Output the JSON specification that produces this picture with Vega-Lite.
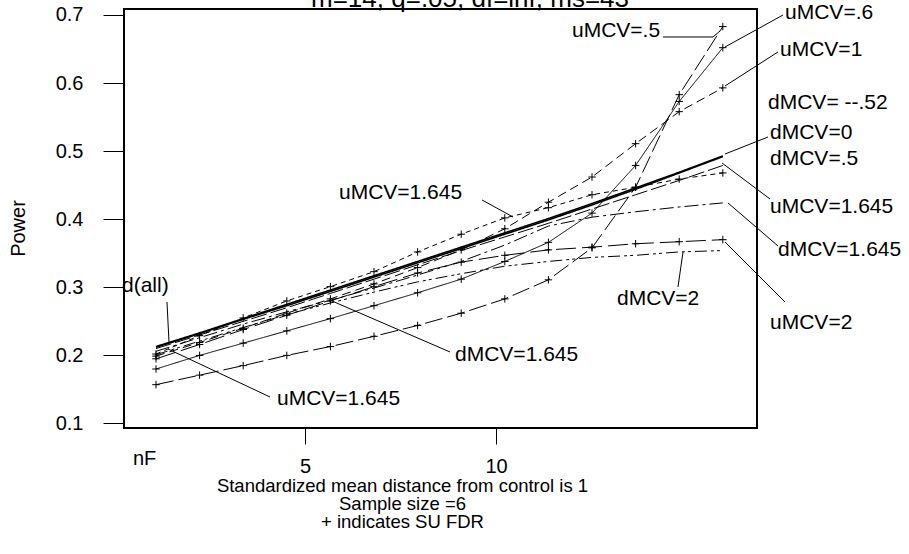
{
  "$schema": "https://vega.github.io/schema/vega-lite/v6.json",
  "width": 633,
  "height": 419,
  "autosize": {"type": "none"},
  "padding": {"left": 124, "top": 9, "right": 152, "bottom": 126},
  "background": "white",
  "datasets": {
    "curves": [
      {"s":"dMCV=-.52","nF":1,"power":0.213},{"s":"dMCV=-.52","nF":2,"power":0.233},{"s":"dMCV=-.52","nF":3,"power":0.254},{"s":"dMCV=-.52","nF":4,"power":0.275},{"s":"dMCV=-.52","nF":5,"power":0.296},{"s":"dMCV=-.52","nF":6,"power":0.317},{"s":"dMCV=-.52","nF":7,"power":0.338},{"s":"dMCV=-.52","nF":8,"power":0.359},{"s":"dMCV=-.52","nF":9,"power":0.380},{"s":"dMCV=-.52","nF":10,"power":0.401},{"s":"dMCV=-.52","nF":11,"power":0.423},{"s":"dMCV=-.52","nF":12,"power":0.446},{"s":"dMCV=-.52","nF":13,"power":0.469},{"s":"dMCV=-.52","nF":14,"power":0.493},
      {"s":"dMCV=0","nF":1,"power":0.212},{"s":"dMCV=0","nF":2,"power":0.232},{"s":"dMCV=0","nF":3,"power":0.253},{"s":"dMCV=0","nF":4,"power":0.273},{"s":"dMCV=0","nF":5,"power":0.294},{"s":"dMCV=0","nF":6,"power":0.315},{"s":"dMCV=0","nF":7,"power":0.336},{"s":"dMCV=0","nF":8,"power":0.357},{"s":"dMCV=0","nF":9,"power":0.378},{"s":"dMCV=0","nF":10,"power":0.399},{"s":"dMCV=0","nF":11,"power":0.421},{"s":"dMCV=0","nF":12,"power":0.444},{"s":"dMCV=0","nF":13,"power":0.468},{"s":"dMCV=0","nF":14,"power":0.492},
      {"s":"dMCV=.5","nF":1,"power":0.210},{"s":"dMCV=.5","nF":2,"power":0.230},{"s":"dMCV=.5","nF":3,"power":0.250},{"s":"dMCV=.5","nF":4,"power":0.270},{"s":"dMCV=.5","nF":5,"power":0.291},{"s":"dMCV=.5","nF":6,"power":0.312},{"s":"dMCV=.5","nF":7,"power":0.333},{"s":"dMCV=.5","nF":8,"power":0.354},{"s":"dMCV=.5","nF":9,"power":0.374},{"s":"dMCV=.5","nF":10,"power":0.394},{"s":"dMCV=.5","nF":11,"power":0.415},{"s":"dMCV=.5","nF":12,"power":0.436},{"s":"dMCV=.5","nF":13,"power":0.457},{"s":"dMCV=.5","nF":14,"power":0.479},
      {"s":"uMCV=.5","nF":1,"power":0.157},{"s":"uMCV=.5","nF":2,"power":0.171},{"s":"uMCV=.5","nF":3,"power":0.185},{"s":"uMCV=.5","nF":4,"power":0.200},{"s":"uMCV=.5","nF":5,"power":0.213},{"s":"uMCV=.5","nF":6,"power":0.228},{"s":"uMCV=.5","nF":7,"power":0.244},{"s":"uMCV=.5","nF":8,"power":0.262},{"s":"uMCV=.5","nF":9,"power":0.283},{"s":"uMCV=.5","nF":10,"power":0.311},{"s":"uMCV=.5","nF":11,"power":0.358},{"s":"uMCV=.5","nF":12,"power":0.447},{"s":"uMCV=.5","nF":13,"power":0.583},{"s":"uMCV=.5","nF":14,"power":0.683},
      {"s":"uMCV=.6","nF":1,"power":0.180},{"s":"uMCV=.6","nF":2,"power":0.200},{"s":"uMCV=.6","nF":3,"power":0.218},{"s":"uMCV=.6","nF":4,"power":0.236},{"s":"uMCV=.6","nF":5,"power":0.254},{"s":"uMCV=.6","nF":6,"power":0.273},{"s":"uMCV=.6","nF":7,"power":0.292},{"s":"uMCV=.6","nF":8,"power":0.312},{"s":"uMCV=.6","nF":9,"power":0.338},{"s":"uMCV=.6","nF":10,"power":0.366},{"s":"uMCV=.6","nF":11,"power":0.409},{"s":"uMCV=.6","nF":12,"power":0.479},{"s":"uMCV=.6","nF":13,"power":0.573},{"s":"uMCV=.6","nF":14,"power":0.652},
      {"s":"uMCV=1","nF":1,"power":0.199},{"s":"uMCV=1","nF":2,"power":0.219},{"s":"uMCV=1","nF":3,"power":0.240},{"s":"uMCV=1","nF":4,"power":0.262},{"s":"uMCV=1","nF":5,"power":0.283},{"s":"uMCV=1","nF":6,"power":0.305},{"s":"uMCV=1","nF":7,"power":0.329},{"s":"uMCV=1","nF":8,"power":0.355},{"s":"uMCV=1","nF":9,"power":0.386},{"s":"uMCV=1","nF":10,"power":0.425},{"s":"uMCV=1","nF":11,"power":0.462},{"s":"uMCV=1","nF":12,"power":0.511},{"s":"uMCV=1","nF":13,"power":0.558},{"s":"uMCV=1","nF":14,"power":0.593},
      {"s":"uMCV=1.645","nF":1,"power":0.202},{"s":"uMCV=1.645","nF":2,"power":0.229},{"s":"uMCV=1.645","nF":3,"power":0.255},{"s":"uMCV=1.645","nF":4,"power":0.280},{"s":"uMCV=1.645","nF":5,"power":0.301},{"s":"uMCV=1.645","nF":6,"power":0.323},{"s":"uMCV=1.645","nF":7,"power":0.352},{"s":"uMCV=1.645","nF":8,"power":0.378},{"s":"uMCV=1.645","nF":9,"power":0.402},{"s":"uMCV=1.645","nF":10,"power":0.417},{"s":"uMCV=1.645","nF":11,"power":0.436},{"s":"uMCV=1.645","nF":12,"power":0.447},{"s":"uMCV=1.645","nF":13,"power":0.459},{"s":"uMCV=1.645","nF":14,"power":0.468},
      {"s":"uMCV=2","nF":1,"power":0.195},{"s":"uMCV=2","nF":2,"power":0.216},{"s":"uMCV=2","nF":3,"power":0.238},{"s":"uMCV=2","nF":4,"power":0.259},{"s":"uMCV=2","nF":5,"power":0.280},{"s":"uMCV=2","nF":6,"power":0.301},{"s":"uMCV=2","nF":7,"power":0.321},{"s":"uMCV=2","nF":8,"power":0.337},{"s":"uMCV=2","nF":9,"power":0.347},{"s":"uMCV=2","nF":10,"power":0.355},{"s":"uMCV=2","nF":11,"power":0.359},{"s":"uMCV=2","nF":12,"power":0.364},{"s":"uMCV=2","nF":13,"power":0.367},{"s":"uMCV=2","nF":14,"power":0.370},
      {"s":"dMCV=1.645","nF":1,"power":0.206},{"s":"dMCV=1.645","nF":2,"power":0.226},{"s":"dMCV=1.645","nF":3,"power":0.246},{"s":"dMCV=1.645","nF":4,"power":0.264},{"s":"dMCV=1.645","nF":5,"power":0.281},{"s":"dMCV=1.645","nF":6,"power":0.299},{"s":"dMCV=1.645","nF":7,"power":0.318},{"s":"dMCV=1.645","nF":8,"power":0.338},{"s":"dMCV=1.645","nF":9,"power":0.362},{"s":"dMCV=1.645","nF":10,"power":0.390},{"s":"dMCV=1.645","nF":11,"power":0.403},{"s":"dMCV=1.645","nF":12,"power":0.411},{"s":"dMCV=1.645","nF":13,"power":0.418},{"s":"dMCV=1.645","nF":14,"power":0.424},
      {"s":"dMCV=2","nF":1,"power":0.201},{"s":"dMCV=2","nF":2,"power":0.221},{"s":"dMCV=2","nF":3,"power":0.241},{"s":"dMCV=2","nF":4,"power":0.260},{"s":"dMCV=2","nF":5,"power":0.277},{"s":"dMCV=2","nF":6,"power":0.293},{"s":"dMCV=2","nF":7,"power":0.308},{"s":"dMCV=2","nF":8,"power":0.320},{"s":"dMCV=2","nF":9,"power":0.331},{"s":"dMCV=2","nF":10,"power":0.338},{"s":"dMCV=2","nF":11,"power":0.344},{"s":"dMCV=2","nF":12,"power":0.347},{"s":"dMCV=2","nF":13,"power":0.352},{"s":"dMCV=2","nF":14,"power":0.354}
    ],
    "labels": [
      {"t":"uMCV=.5","nF":10.541,"power":0.6765},
      {"t":"uMCV=.6","nF":15.427,"power":0.7029},
      {"t":"uMCV=1","nF":15.312,"power":0.6486},
      {"t":"dMCV= --.52","nF":15.037,"power":0.5707},
      {"t":"dMCV=0","nF":15.083,"power":0.5267},
      {"t":"dMCV=.5","nF":15.083,"power":0.4885},
      {"t":"uMCV=1.645","nF":15.083,"power":0.4180},
      {"t":"dMCV=1.645","nF":15.266,"power":0.3548},
      {"t":"uMCV=2","nF":15.083,"power":0.2476},
      {"t":"dMCV=2","nF":11.573,"power":0.2828},
      {"t":"uMCV=1.645","nF":5.197,"power":0.4385},
      {"t":"dMCV=1.645","nF":7.858,"power":0.2006},
      {"t":"uMCV=1.645","nF":3.775,"power":0.1360},
      {"t":"d(all)","nF":0.220,"power":0.3019}
    ],
    "leaders": [
      {"nF":12.628,"power":0.6677,"nF2":13.775,"power2":0.6677},
      {"nF":13.775,"power":0.6677,"nF2":13.936,"power2":0.6765},
      {"nF":15.381,"power":0.7000,"nF2":14.050,"power2":0.6530},
      {"nF":15.266,"power":0.6457,"nF2":14.050,"power2":0.5957},
      {"nF":15.037,"power":0.5208,"nF2":14.050,"power2":0.4958},
      {"nF":15.083,"power":0.4297,"nF2":13.982,"power2":0.4826},
      {"nF":15.266,"power":0.3607,"nF2":14.119,"power2":0.4239},
      {"nF":15.427,"power":0.2784,"nF2":14.050,"power2":0.3666},
      {"nF":12.972,"power":0.3005,"nF2":13.087,"power2":0.3519},
      {"nF":8.477,"power":0.4283,"nF2":9.188,"power2":0.4033},
      {"nF":7.743,"power":0.2050,"nF2":5.037,"power2":0.2799},
      {"nF":3.615,"power":0.1389,"nF2":1.275,"power2":0.2094},
      {"nF":1.252,"power":0.2784,"nF2":1.298,"power2":0.2197}
    ],
    "extra": [
      {"t":"nF","nF":0.4725,"power":0.0390}
    ],
    "top": [
      {"t":"m=14, q=.05, df=inf, ms=43","nF":8.202,"power":0.7118}
    ]
  },
  "layer": [
    {
      "data": {"name": "curves"},
      "mark": {"type": "line", "color": "black"},
      "encoding": {
        "x": {"field": "nF", "type": "quantitative",
          "scale": {"domain": [0.2661, 14.784], "nice": false, "zero": false},
          "axis": {"values": [4.4174, 8.7982], "labelExpr": "datum.value < 6 ? '5' : '10'",
            "tickSize": 16, "labelPadding": 12, "labelFontSize": 20,
            "title": ["Standardized mean distance from control is 1", "Sample size =6", "+  indicates SU FDR"],
            "titleFontSize": 18.5, "titleLineHeight": 18, "titleX": 278, "titleY": 63.5,
            "titleBaseline": "alphabetic", "titleAlign": "center"}},
        "y": {"field": "power", "type": "quantitative",
          "scale": {"domain": [0.09336, 0.70881], "nice": false, "zero": false},
          "axis": {"values": [0.1, 0.2, 0.3, 0.4, 0.5, 0.6, 0.7], "format": ".1f",
            "tickSize": 21, "labelPadding": 20, "labelFontSize": 20,
            "title": "Power", "titleFontSize": 20, "titleX": -106, "titleY": 219,
            "titleAngle": 270, "titleBaseline": "middle", "titleAlign": "center"}},
        "detail": {"field": "s", "type": "nominal"},
        "strokeDash": {"field": "s", "type": "nominal", "legend": null,
          "scale": {
            "domain": ["dMCV=-.52", "dMCV=0", "dMCV=.5", "uMCV=.5", "uMCV=.6", "uMCV=1", "uMCV=1.645", "uMCV=2", "dMCV=1.645", "dMCV=2"],
            "range": [[1, 0], [1, 0], [16, 4], [18, 5], [1, 0], [9, 5], [5, 4], [20, 6], [14, 4, 3, 4], [12, 4, 3, 3, 3, 4]]}},
        "strokeWidth": {"condition": {"test": "datum.s === 'dMCV=-.52' || datum.s === 'dMCV=0'", "value": 1.6}, "value": 1}
      }
    },
    {
      "data": {"name": "curves"},
      "transform": [{"filter": "indexof(datum.s, 'uMCV') === 0"}],
      "mark": {"type": "point", "shape": "M-1,0L1,0M0,-1L0,1", "size": 56, "filled": false, "stroke": "black", "strokeWidth": 1, "opacity": 1},
      "encoding": {
        "x": {"field": "nF", "type": "quantitative"},
        "y": {"field": "power", "type": "quantitative"}
      }
    },
    {
      "data": {"name": "leaders"},
      "mark": {"type": "rule", "color": "black", "strokeWidth": 1},
      "encoding": {
        "x": {"field": "nF", "type": "quantitative"},
        "y": {"field": "power", "type": "quantitative"},
        "x2": {"field": "nF2"},
        "y2": {"field": "power2"}
      }
    },
    {
      "data": {"name": "labels"},
      "mark": {"type": "text", "align": "left", "baseline": "middle", "fontSize": 21, "font": "Liberation Sans", "color": "black"},
      "encoding": {
        "x": {"field": "nF", "type": "quantitative"},
        "y": {"field": "power", "type": "quantitative"},
        "text": {"field": "t"}
      }
    },
    {
      "data": {"name": "extra"},
      "mark": {"type": "text", "align": "left", "baseline": "alphabetic", "fontSize": 20, "font": "Liberation Sans", "color": "black"},
      "encoding": {
        "x": {"field": "nF", "type": "quantitative"},
        "y": {"field": "power", "type": "quantitative"},
        "text": {"field": "t"}
      }
    },
    {
      "data": {"name": "top"},
      "mark": {"type": "text", "align": "center", "baseline": "alphabetic", "fontSize": 26, "font": "Liberation Sans", "color": "black"},
      "encoding": {
        "x": {"field": "nF", "type": "quantitative"},
        "y": {"field": "power", "type": "quantitative"},
        "text": {"field": "t"}
      }
    }
  ],
  "config": {
    "font": "Liberation Sans",
    "view": {"stroke": "black", "strokeWidth": 2},
    "axis": {"grid": false, "domain": false, "tickColor": "black", "tickWidth": 1,
      "labelColor": "black", "titleColor": "black", "titleFontWeight": "normal",
      "labelFont": "Liberation Sans", "titleFont": "Liberation Sans"}
  }
}
